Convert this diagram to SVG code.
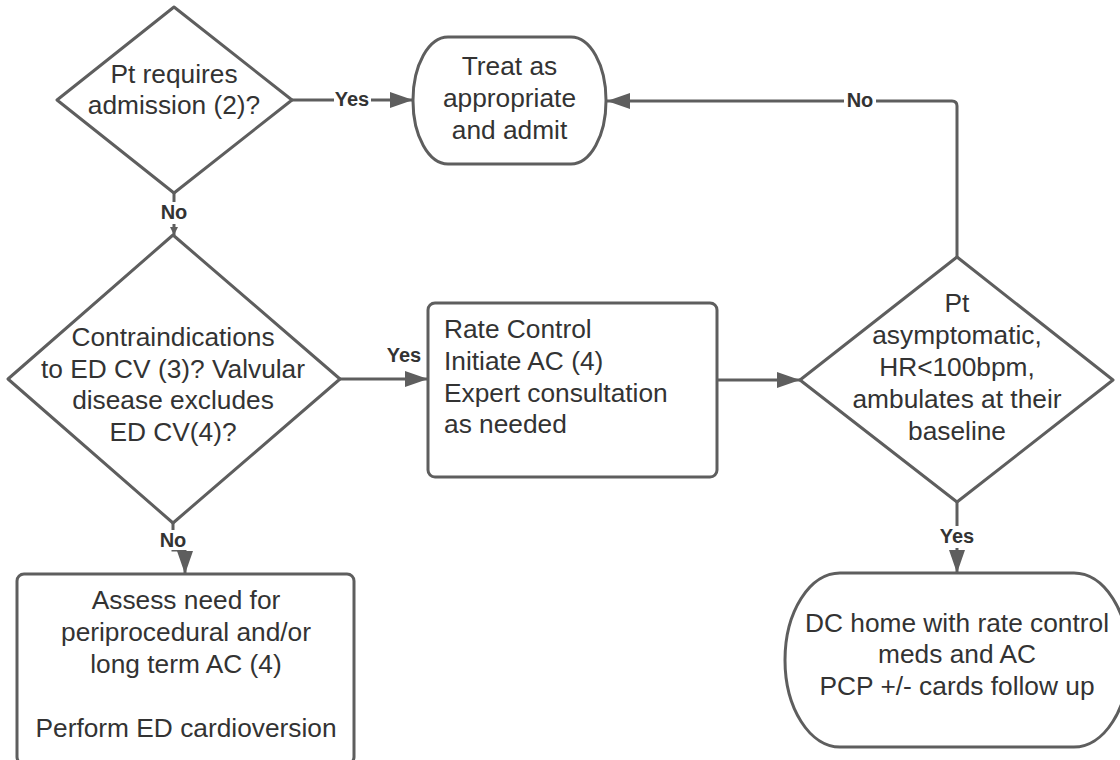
<svg xmlns="http://www.w3.org/2000/svg" width="1120" height="760" viewBox="0 0 1120 760">
<style>
.shape{fill:#ffffff;stroke:#5e5e5e;stroke-width:3;stroke-linejoin:round}
.t{font-family:"Liberation Sans",Arial,sans-serif;font-size:26.3px;fill:#333333}
.c{text-anchor:middle}
.lbl{font-family:"Liberation Sans",Arial,sans-serif;font-size:20px;font-weight:bold;fill:#333333;text-anchor:middle}
.ln{fill:none;stroke:#5e5e5e;stroke-width:3}
.bg{fill:#ffffff}
</style>
<defs>
<marker id="arr" markerUnits="userSpaceOnUse" markerWidth="23" markerHeight="16" refX="23" refY="8" orient="auto">
<path d="M0,0 L23,8 L0,16 z" fill="#5e5e5e"/>
</marker>
<marker id="arrS" markerUnits="userSpaceOnUse" markerWidth="8" markerHeight="8" refX="8" refY="4" orient="auto">
<path d="M0,0 L8,4 L0,8 z" fill="#5e5e5e"/>
</marker>
</defs>
<rect width="1120" height="760" fill="#ffffff"/>

<g id="connectors">
<path class="ln" d="M292,100 H413" marker-end="url(#arr)"/>
<rect class="bg" x="334" y="88" width="37" height="22"/>
<text class="lbl" x="352" y="106">Yes</text>

<path class="ln" d="M174,193 V235" marker-end="url(#arrS)"/>
<rect class="bg" x="158" y="202" width="32" height="22"/>
<text class="lbl" x="174" y="219">No</text>

<path class="ln" d="M340,379 H428" marker-end="url(#arr)"/>
<text class="lbl" x="404" y="362">Yes</text>

<path class="ln" d="M717,380 H800" marker-end="url(#arr)"/>

<path class="ln" d="M957,257 V106 Q957,101 952,101 H607" marker-end="url(#arr)"/>
<rect class="bg" x="844" y="90" width="32" height="22"/>
<text class="lbl" x="860" y="107">No</text>

<path class="ln" d="M957,502 V573" marker-end="url(#arr)"/>
<rect class="bg" x="937" y="526" width="40" height="22"/>
<text class="lbl" x="957" y="543">Yes</text>

<path class="ln" d="M173,523 V550 H185 V574" marker-end="url(#arr)"/>
<rect class="bg" x="157" y="530" width="32" height="20"/>
<text class="lbl" x="173" y="547">No</text>
</g>

<g id="node-admission">
<polygon class="shape" points="174,7 292,100 174,193 57,100"/>
<text class="t c" x="174" y="83">Pt requires</text>
<text class="t c" x="174" y="114">admission (2)?</text>
</g>

<g id="node-treat">
<rect class="shape" x="413" y="37" width="193" height="127" rx="35" ry="63"/>
<text class="t c" x="509.5" y="75">Treat as</text>
<text class="t c" x="509.5" y="107">appropriate</text>
<text class="t c" x="509.5" y="139">and admit</text>
</g>

<g id="node-contraindications">
<polygon class="shape" points="173,235 340,379 173,523 8,379"/>
<text class="t c" x="173" y="346">Contraindications</text>
<text class="t c" x="173" y="378">to ED CV (3)? Valvular</text>
<text class="t c" x="173" y="409">disease excludes</text>
<text class="t c" x="173" y="441">ED CV(4)?</text>
</g>

<g id="node-rate">
<rect class="shape" x="428" y="303" width="289" height="174" rx="7" ry="7"/>
<text class="t" x="444" y="338">Rate Control</text>
<text class="t" x="444" y="370">Initiate AC (4)</text>
<text class="t" x="444" y="402">Expert consultation</text>
<text class="t" x="444" y="433">as needed</text>
</g>

<g id="node-asymptomatic">
<polygon class="shape" points="957,257 1113,380 957,502 800,380"/>
<text class="t c" x="957" y="312">Pt</text>
<text class="t c" x="957" y="344">asymptomatic,</text>
<text class="t c" x="957" y="376">HR&lt;100bpm,</text>
<text class="t c" x="957" y="408">ambulates at their</text>
<text class="t c" x="957" y="440">baseline</text>
</g>

<g id="node-assess">
<rect class="shape" x="17" y="574" width="337" height="190" rx="7" ry="7"/>
<text class="t c" x="186" y="609">Assess need for</text>
<text class="t c" x="186" y="641">periprocedural and/or</text>
<text class="t c" x="186" y="673">long term AC (4)</text>
<text class="t c" x="186" y="737">Perform ED cardioversion</text>
</g>

<g id="node-dc">
<rect class="shape" x="785" y="573" width="344" height="174" rx="55" ry="87"/>
<text class="t c" x="957" y="632">DC home with rate control</text>
<text class="t c" x="957" y="663">meds and AC</text>
<text class="t c" x="957" y="695">PCP +/- cards follow up</text>
</g>
</svg>
